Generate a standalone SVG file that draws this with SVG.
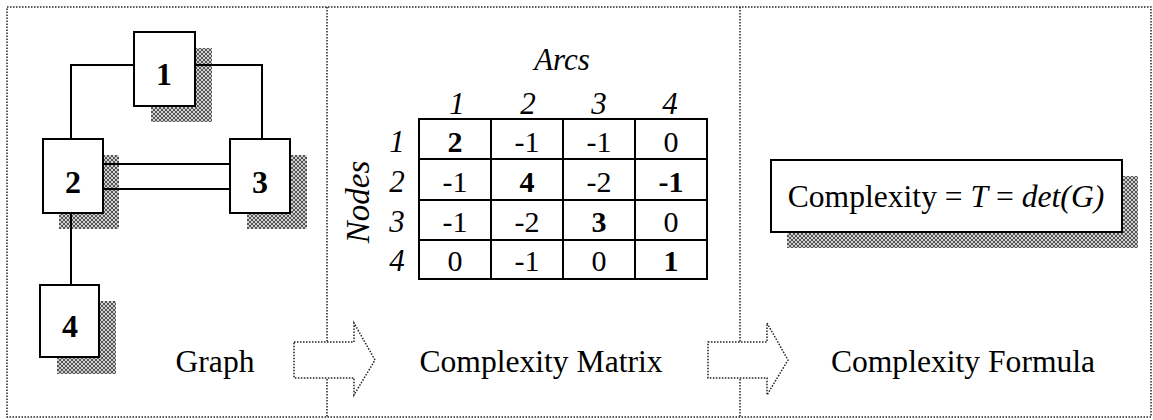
<svg xmlns="http://www.w3.org/2000/svg" width="1153" height="420" viewBox="0 0 1153 420">
<defs>
<pattern id="hatch" width="4" height="4" patternUnits="userSpaceOnUse">
<rect width="4" height="4" fill="#d0d0d0"/>
<path d="M0,0 L4,4 M4,0 L0,4" stroke="#555" stroke-width="1"/>
</pattern>
</defs>
<style>
.frame{fill:none;stroke:#222;stroke-width:1.5;stroke-dasharray:1.5,1.5}
.arrow{fill:#fff;stroke:#222;stroke-width:1.5;stroke-dasharray:1.5,1.5}
.shadow{fill:url(#hatch);stroke:none}
.box{fill:#fff;stroke:#000;stroke-width:2}
.conn{fill:none;stroke:#000;stroke-width:2}
.grid{fill:none;stroke:#000;stroke-width:2}
text{font-family:"Liberation Serif","Times New Roman",serif;fill:#000}
.nlabel{font-size:32px;font-weight:bold;text-anchor:middle}
.label{font-size:31.6px;text-anchor:middle}
.cell{font-size:30px;text-anchor:middle}
.b{font-weight:bold}
.it{font-style:italic}
.hdr{font-size:31px;font-style:italic;text-anchor:middle}
</style>
<rect class="frame" x="7" y="7" width="1144" height="410"/>
<line class="frame" x1="327" y1="7" x2="327" y2="417"/>
<line class="frame" x1="740" y1="7" x2="740" y2="417"/>

<g id="arrow1"><polygon class="arrow" points="294,342 354,342 354,323 375,360 354,395 354,378 294,378"/></g>
<g id="arrow2"><polygon class="arrow" points="708,342 767,342 767,323 788,360 767,395 767,378 708,378"/></g>

<g id="node1">
<rect class="shadow" x="151" y="48" width="61" height="74"/>
<rect class="box" x="134" y="32" width="61" height="74"/>
<text class="nlabel" x="164" y="85">1</text>
</g>
<g id="node2">
<rect class="shadow" x="59" y="155" width="60" height="74"/>
<rect class="box" x="43" y="139" width="60" height="74"/>
<text class="nlabel" x="73" y="193">2</text>
</g>
<g id="node3">
<rect class="shadow" x="247" y="155" width="60" height="74"/>
<rect class="box" x="230" y="139" width="60" height="74"/>
<text class="nlabel" x="260" y="193">3</text>
</g>
<g id="node4">
<rect class="shadow" x="57" y="301" width="59" height="73"/>
<rect class="box" x="40" y="285" width="59" height="72"/>
<text class="nlabel" x="70" y="337">4</text>
</g>

<g id="connectors">
<polyline class="conn" points="134,65 71,65 71,139"/>
<polyline class="conn" points="195,65 262,65 262,139"/>
<line class="conn" x1="103" y1="164" x2="230" y2="164"/>
<line class="conn" x1="103" y1="189" x2="230" y2="189"/>
<line class="conn" x1="71" y1="213" x2="71" y2="285"/>
</g>

<text id="graph-label" class="label" x="215" y="372">Graph</text>

<g id="matrix">
<text class="hdr" x="562" y="70">Arcs</text>
<text class="hdr" x="457" y="114">1</text>
<text class="hdr" x="528" y="114">2</text>
<text class="hdr" x="599" y="114">3</text>
<text class="hdr" x="670" y="114">4</text>
<text class="hdr" x="397" y="152">1</text>
<text class="hdr" x="397" y="192">2</text>
<text class="hdr" x="397" y="232">3</text>
<text class="hdr" x="397" y="271">4</text>
<text class="it" font-size="33" text-anchor="middle" transform="translate(369,202) rotate(-90)">Nodes</text>
<rect class="grid" x="419" y="119" width="288" height="160"/>
<path class="grid" d="M491,119 V279 M563,119 V279 M635,119 V279 M419,159 H707 M419,200 H707 M419,240 H707"/>
<text class="cell b" x="455" y="152">2</text>
<text class="cell" x="527" y="152">-1</text>
<text class="cell" x="599" y="152">-1</text>
<text class="cell" x="671" y="152">0</text>
<text class="cell" x="455" y="192">-1</text>
<text class="cell b" x="527" y="192">4</text>
<text class="cell" x="599" y="192">-2</text>
<text class="cell b" x="671" y="192">-1</text>
<text class="cell" x="455" y="232">-1</text>
<text class="cell" x="527" y="232">-2</text>
<text class="cell b" x="599" y="232">3</text>
<text class="cell" x="671" y="232">0</text>
<text class="cell" x="455" y="271">0</text>
<text class="cell" x="527" y="271">-1</text>
<text class="cell" x="599" y="271">0</text>
<text class="cell b" x="671" y="271">1</text>
</g>
<text id="matrix-label" class="label" x="541" y="372">Complexity Matrix</text>

<g id="formula">
<rect class="shadow" x="787" y="176" width="351" height="72"/>
<rect class="box" x="771" y="160" width="351" height="72"/>
<text class="label" x="946" y="207">Complexity = <tspan class="it">T</tspan> = <tspan class="it">det(G)</tspan></text>
</g>
<text id="formula-label" class="label" x="963" y="372">Complexity Formula</text>
</svg>
